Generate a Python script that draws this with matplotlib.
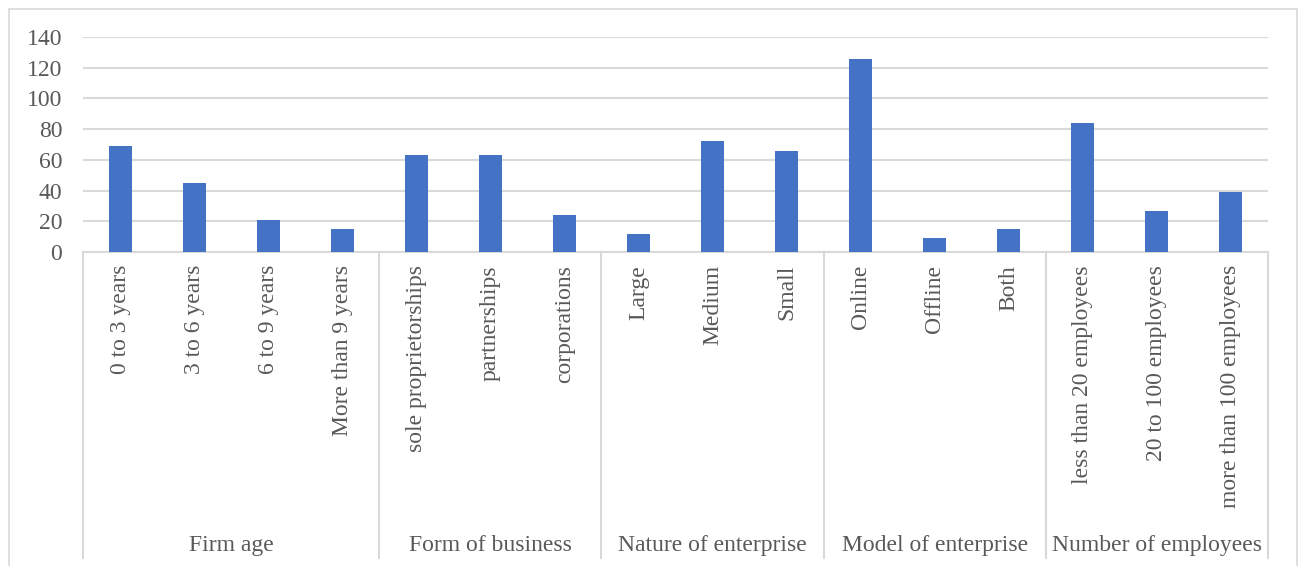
import numpy as np
import matplotlib
matplotlib.use('Agg')
import matplotlib.pyplot as plt
from matplotlib.patches import Rectangle

# data
groups = ['Firm age', 'Form of business', 'Nature of enterprise',
          'Model of enterprise', 'Number of employees']
group_sizes = [4, 3, 3, 3, 3]
categories = ['0 to 3 years', '3 to 6 years', '6 to 9 years', 'More than 9 years',
              'sole proprietorships', 'partnerships', 'corporations',
              'Large', 'Medium', 'Small',
              'Online', 'Offline', 'Both',
              'less than 20 employees', '20 to 100 employees', 'more than 100 employees']
values = [69, 45, 21, 15,
          63, 63, 24,
          12, 72, 66,
          126, 9, 15,
          84, 27, 39]
yticks = [0, 20, 40, 60, 80, 100, 120, 140]

plt.rcParams['font.family'] = ['Liberation Serif', 'DejaVu Serif']
txt = '#595959'
grid = '#d9d9d9'
fs = 17

W, H = 1300, 566
fig = plt.figure(figsize=(W / 100, H / 100), dpi=100)
ax = fig.add_axes([83 / W, 1 - 252 / H, (1268 - 83) / W, (252 - 37) / H])

x = np.arange(len(categories))
ax.bar(x, values, width=0.31, color='#4472C4', zorder=3)

ax.set_xlim(-0.5, len(categories) - 0.5)
ax.set_ylim(0, 140)
ax.set_yticks(yticks)
ax.set_yticklabels([str(t) for t in yticks], fontsize=fs, color=txt)
ax.tick_params(axis='y', length=0, pad=15)
ax.set_xticks([])
ax.yaxis.grid(True, color=grid, lw=1.5, zorder=0)
for s in ['left', 'right', 'top']:
    ax.spines[s].set_visible(False)
ax.spines['bottom'].set_color(grid)
ax.spines['bottom'].set_linewidth(1.5)

tr = ax.get_xaxis_transform()
axh = 252 - 37
for xi, lab in zip(x, categories):
    ax.text(xi, -13 / axh, lab, rotation=90, ha='center', va='top',
            fontsize=fs, color=txt, transform=tr, clip_on=False)

# group separators and group labels
bounds = np.concatenate([[0], np.cumsum(group_sizes)]) - 0.5
for b in bounds:
    ax.plot([b, b], [0, -(558 - 252) / axh], color=grid, lw=1.5,
            transform=tr, clip_on=False)
for i, g in enumerate(groups):
    c = (bounds[i] + bounds[i + 1]) / 2
    ax.text(c, -(545 - 252) / axh, g, ha='center', va='center',
            fontsize=fs, color=txt, transform=tr, clip_on=False)

# outer chart border
fig.patches.append(Rectangle((9 / W, -0.1), (1297 - 9) / W, 1.1 - 9 / H,
                             transform=fig.transFigure, fill=False,
                             edgecolor=grid, lw=1.2))

fig.savefig('out.png', dpi=100)
